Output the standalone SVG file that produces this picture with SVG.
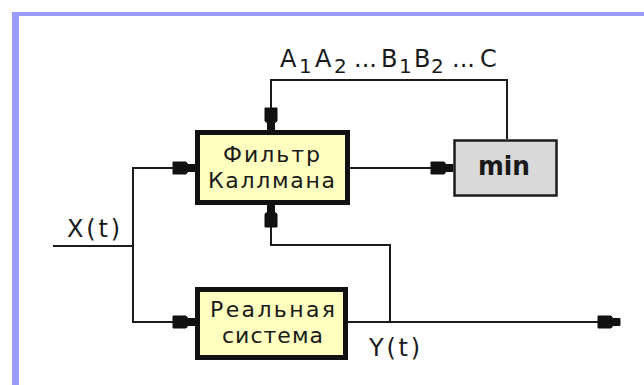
<svg xmlns="http://www.w3.org/2000/svg" width="644" height="385" viewBox="0 0 644 385">
  <style>
    .wire { fill: none; stroke: #1c1c1c; stroke-width: 2; }
    .block { fill: #ffffc0; stroke: #111; stroke-width: 5; }
    .minbox { fill: #d9d9d9; stroke: #1c1c1c; stroke-width: 2.5; }
    .lbl { font-family: "DejaVu Sans", "Liberation Sans", sans-serif; font-size: 24px; fill: #1a1a1a; }
    .box { font-size: 22px; }
    .sub { font-size: 20px; }
    .bold { font-weight: bold; font-size: 26px; }
  </style>
  <defs>
    <marker id="head" markerUnits="userSpaceOnUse" viewBox="-24 -8 25 16" refX="0" refY="0" markerWidth="25" markerHeight="16" orient="auto">
      <path d="M-22,-6 H-9 L-7,-3.5 H0 V3.5 H-7 L-9,6 H-22 Z" fill="#111" stroke="#111" stroke-width="1" stroke-linejoin="round"/>
    </marker>
  </defs>

  <!-- frame: top and left edges only -->
  <rect x="0" y="0" width="644" height="385" fill="#ffffff"/>
  <rect x="12" y="12" width="632" height="4" fill="#9c9cff"/>
  <rect x="12" y="12" width="7" height="373" fill="#9c9cff"/>

  <!-- connectors -->
  <g id="connectors">
    <path class="wire" d="M53,246 H133"/>
    <path class="wire" d="M133,246 V168 H195" marker-end="url(#head)"/>
    <path class="wire" d="M133,246 V322 H195" marker-end="url(#head)"/>
    <path class="wire" d="M350,168 H453" marker-end="url(#head)"/>
    <path class="wire" d="M507,139 V80 H271 V130" marker-end="url(#head)"/>
    <path class="wire" d="M348,322 H620" marker-end="url(#head)"/>
    <path class="wire" d="M390,322 V245 H271 V205" marker-end="url(#head)"/>
  </g>

  <!-- signal labels -->
  <text class="lbl" x="67" y="237" textLength="53" lengthAdjust="spacing">X(t)</text>
  <text class="lbl" x="369" y="356" textLength="51" lengthAdjust="spacing">Y(t)</text>
  <text class="lbl" y="67"><tspan x="280">A</tspan><tspan class="sub" x="299" y="73">1</tspan><tspan x="315" y="67">A</tspan><tspan class="sub" x="334" y="73">2</tspan><tspan x="354" y="67">...</tspan><tspan x="381">B</tspan><tspan class="sub" x="399" y="73">1</tspan><tspan x="414" y="67">B</tspan><tspan class="sub" x="431" y="73">2</tspan><tspan x="452" y="67">...</tspan><tspan x="480">C</tspan></text>

  <g id="kalman">
    <rect class="block" x="197.5" y="132.5" width="150" height="70"/>
    <text class="lbl box"><tspan x="223" y="162" textLength="97" lengthAdjust="spacing">Фильтр</tspan><tspan x="208" y="188" textLength="127" lengthAdjust="spacing">Каллмана</tspan></text>
  </g>

  <g id="min">
    <rect class="minbox" x="454.5" y="140.5" width="102" height="55"/>
    <text class="lbl bold" x="478" y="175" textLength="52" lengthAdjust="spacingAndGlyphs">min</text>
  </g>

  <g id="system">
    <rect class="block" x="197.5" y="289.5" width="148" height="68"/>
    <text class="lbl box"><tspan x="210" y="317" textLength="125" lengthAdjust="spacing">Реальная</tspan><tspan x="222" y="343" textLength="101" lengthAdjust="spacing">система</tspan></text>
  </g>
</svg>
